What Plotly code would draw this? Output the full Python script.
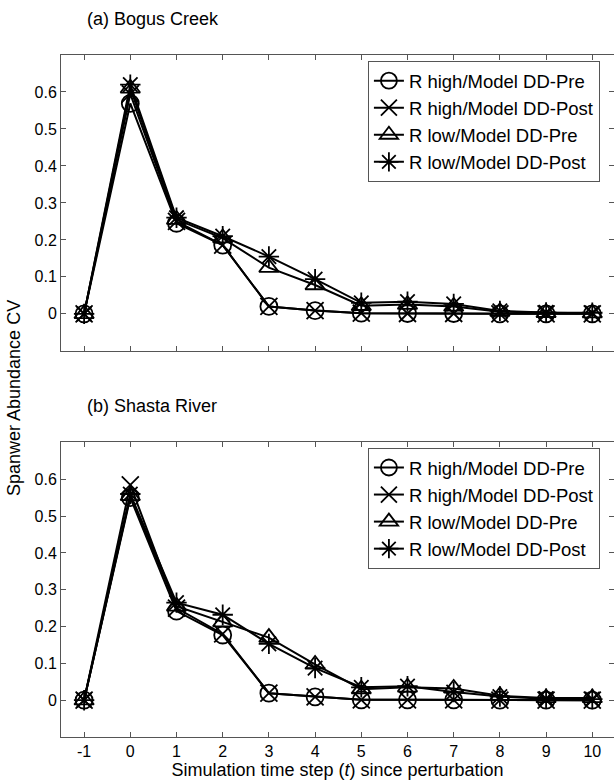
import plotly.graph_objects as go

# Simulation time steps since perturbation
t = [-1, 0, 1, 2, 3, 4, 5, 6, 7, 8, 9, 10]
t_labels = ["-1", "0", "1", "2", "3", "4", "5", "6", "7", "8", "9", "10"]

# (a) Bogus Creek - spawner abundance CV
bogus_hi_pre = [0.0, 0.569, 0.245, 0.186, 0.020, 0.009, 0.002, 0.001, 0.001, 0.000, 0.000, 0.000]
bogus_hi_post = [0.0, 0.595, 0.250, 0.186, 0.020, 0.009, 0.002, 0.001, 0.001, 0.000, 0.000, 0.000]
bogus_lo_pre = [0.0, 0.610, 0.255, 0.205, 0.125, 0.078, 0.022, 0.025, 0.020, 0.006, 0.003, 0.002]
bogus_lo_post = [0.0, 0.620, 0.260, 0.210, 0.155, 0.094, 0.030, 0.033, 0.027, 0.008, 0.004, 0.003]

# (b) Shasta River - spawner abundance CV
shasta_hi_pre = [0.0, 0.550, 0.242, 0.177, 0.019, 0.009, 0.001, 0.001, 0.001, 0.000, 0.000, 0.000]
shasta_hi_post = [0.0, 0.585, 0.250, 0.180, 0.019, 0.009, 0.001, 0.001, 0.001, 0.000, 0.000, 0.000]
shasta_lo_pre = [0.0, 0.555, 0.255, 0.212, 0.170, 0.097, 0.030, 0.035, 0.032, 0.012, 0.006, 0.006]
shasta_lo_post = [0.0, 0.560, 0.265, 0.232, 0.153, 0.087, 0.035, 0.038, 0.022, 0.010, 0.004, 0.003]

y_ticks = [0, 0.1, 0.2, 0.3, 0.4, 0.5, 0.6]
y_labels = ["0", "0.1", "0.2", "0.3", "0.4", "0.5", "0.6"]

series_names = ["R high/Model DD-Pre", "R high/Model DD-Post",
                "R low/Model DD-Pre", "R low/Model DD-Post"]
symbols = ["circle-open", "x-thin-open", "triangle-up-open", "asterisk-open"]

FONT = "Liberation Sans, Arial, Helvetica, sans-serif"
fig = go.Figure()

panels = [
    ("x", "y", [bogus_hi_pre, bogus_hi_post, bogus_lo_pre, bogus_lo_post], "legend"),
    ("x2", "y2", [shasta_hi_pre, shasta_hi_post, shasta_lo_pre, shasta_lo_post], "legend2"),
]
for xa, ya, data, leg in panels:
    for name, sym, vals in zip(series_names, symbols, data):
        fig.add_trace(go.Scatter(
            x=t, y=vals, name=name, xaxis=xa, yaxis=ya, legend=leg,
            mode="lines+markers",
            line=dict(color="black", width=2),
            marker=dict(symbol=sym, size=17, color="black",
                        line=dict(color="black", width=1.8)),
        ))

axis_common = dict(
    showline=True, linecolor="#555555", linewidth=1, mirror="ticks",
    ticks="inside", ticklen=5, tickcolor="#555555", tickwidth=1,
    showgrid=False, zeroline=False,
    tickfont=dict(family=FONT, size=16, color="black"),
)

xr = [-1.5, 10.47]
yr = [-0.1, 0.7]
top_dom = [0.5662, 1.0]
bot_dom = [0.0, 0.4319]

legend_common = dict(
    xanchor="left", yanchor="top", bgcolor="white",
    bordercolor="#555555", borderwidth=1,
    font=dict(family=FONT, size=18.5), tracegroupgap=0, itemwidth=30,
)

fig.update_layout(
    width=614, height=784,
    margin=dict(l=61, r=0, t=55, b=47),
    paper_bgcolor="white", plot_bgcolor="white",
    font=dict(family=FONT, size=16, color="black"),
    xaxis=dict(axis_common, range=xr, tickvals=t, showticklabels=False,
               anchor="y", domain=[0, 1]),
    yaxis=dict(axis_common, range=yr, domain=top_dom, anchor="x",
               tickvals=y_ticks, ticktext=y_labels),
    xaxis2=dict(axis_common, range=xr, tickvals=t, ticktext=t_labels,
                anchor="y2", domain=[0, 1],
                title=dict(text="Simulation time step (<i>t</i>) since perturbation",
                           font=dict(family=FONT, size=18), standoff=4)),
    yaxis2=dict(axis_common, range=yr, domain=bot_dom, anchor="x2",
                tickvals=y_ticks, ticktext=y_labels),
    legend=dict(legend_common, x=0.555, y=0.991),
    legend2=dict(legend_common, x=0.555, y=0.4238),
    showlegend=True,
)

panel_titles = [("(a) Bogus Creek", 19), ("(b) Shasta River", 406)]
for text, ypix in panel_titles:
    fig.add_annotation(
        text=text, xref="paper", yref="paper",
        x=(85 - 61) / 553, y=1 - (ypix - 55) / 682,
        xanchor="left", yanchor="middle", showarrow=False,
        font=dict(family=FONT, size=18, color="black"),
    )

fig.add_annotation(
    text="Spanwer Abundance CV", xref="paper", yref="paper",
    x=(14 - 61) / 553, y=1 - (398 - 55) / 682, textangle=-90,
    xanchor="center", yanchor="middle", showarrow=False,
    font=dict(family=FONT, size=18, color="black"),
)

fig.write_html("out.html")
